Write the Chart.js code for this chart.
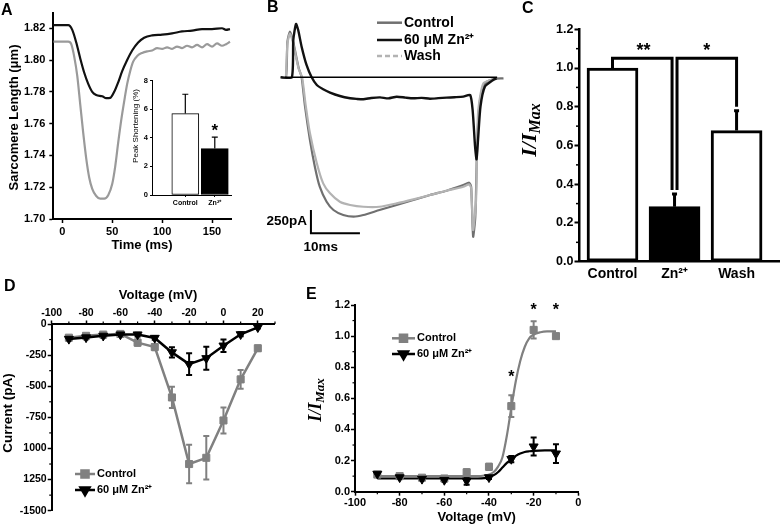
<!DOCTYPE html>
<html><head><meta charset="utf-8">
<script src="https://cdn.jsdelivr.net/npm/chart.js@4.4.1/dist/chart.umd.min.js"></script>
<style>
html,body{margin:0;padding:0;background:#fff;}
#wrap{position:relative;width:780px;height:529px;overflow:hidden;background:#fff;}
canvas{position:absolute;left:0;top:0;}
</style></head><body><div id="wrap">
<canvas id="cA" width="780" height="529"></canvas>
<canvas id="cIn" width="780" height="529"></canvas>
<canvas id="cB" width="780" height="529"></canvas>
<canvas id="cC" width="780" height="529"></canvas>
<canvas id="cD" width="780" height="529"></canvas>
<canvas id="cE" width="780" height="529"></canvas>
</div>
<script>
// ---------------- DATA ----------------
// Panel A: sarcomere length traces
const aTimeBlack = [-9,0,6,10,14,18,22,26,30,34,40,44,48,52,56,60,65,70,76,82,90,100,110,120,130,140,150,160,164,168];
const aLenBlack  = [1.822,1.822,1.822,1.819,1.811,1.801,1.792,1.785,1.780,1.778,1.7772,1.776,1.7762,1.780,1.786,1.793,1.800,1.806,1.811,1.814,1.8155,1.816,1.8168,1.818,1.8185,1.8195,1.8195,1.820,1.819,1.8195];
const aTimeGray  = [-9,6,9,12,15,18,21,24,27,30,34,38,42,46,50,53,56,59,62,65,68,71,75,80,85,90,95,100,105,110,115,120,125,130,135,140,145,150,155,160,164,168];
const aLenGray   = [1.8116,1.8116,1.810,1.802,1.790,1.772,1.754,1.738,1.726,1.719,1.7145,1.7128,1.7128,1.715,1.722,1.733,1.748,1.762,1.774,1.785,1.793,1.799,1.8025,1.8045,1.8055,1.806,1.8075,1.807,1.808,1.807,1.8085,1.8075,1.809,1.808,1.8095,1.808,1.810,1.8085,1.8105,1.809,1.810,1.8115];
const aYTicks = [1.70,1.72,1.74,1.76,1.78,1.80,1.82];
const aXTicks = [0,50,100,150];
// Panel A inset: peak shortening
const insetCats = ['Control','Zn\u00B2\u207A'];
const insetVals = [5.7,3.25];
const insetErr  = [1.35,0.8];
const insetYTicks = [0,2,4,6,8];
// Panel B: current traces (ms, pA)
const bCtrlT = [-0.6,0.6,0.9,1.4,2.0,2.6,3.2,3.8,4.5,5.5,6.5,7.5,8.9,10.3,12.3,14.4,16.4,19.7,23.2,26.6,30,33.4,36.8,38,38.4,38.8,39.25,39.65,40.2,41.2,42.9,45];
const bCtrlI = [0,0,380,489,400,250,100,0,-315,-673,-959,-1174,-1335,-1424,-1478,-1496,-1478,-1424,-1370,-1317,-1263,-1217,-1156,-1131,-1174,-1710,-1496,-673,-244,-64,-18,-11];
const bWashT = [0.6,0.9,1.4,2.0,2.6,3.2,3.9,4.6,5.5,6.9,8.2,9.6,11.6,13.7,16.4,19.7,23.2,26.6,30,33.4,36.8,38,38.4,38.8,39.4,39.8,40.9,43.6];
const bWashI = [0,360,470,380,230,90,0,-290,-600,-922,-1138,-1245,-1335,-1370,-1389,-1389,-1353,-1310,-1263,-1217,-1174,-1149,-1190,-1639,-1317,-387,-64,-14];
const bZnT = [-0.4,1.8,2.1,2.65,3.1,3.8,4.8,5.85,6.9,8.2,9.6,11.6,13.7,15,16.4,18,19.8,21.5,23.2,25,26.6,28.3,30,31.7,33.4,35,36.8,38.2,38.7,39.2,39.5,39.8,40.3,41.2,42.9,43.6];
const bZnI = [0,0,400,572,507,328,132,0,-83,-129,-165,-201,-225,-232,-236,-222,-215,-226,-208,-218,-225,-221,-230,-224,-218,-214,-208,-190,-351,-745,-880,-673,-315,-101,-29,-11];
const bBaseT = [0.4,43.7];
const bBaseI = [0,0];
const bScaleMs = 10, bScalePA = 250, bScaleOrigin = [5.7,-1674];
// Panel C: normalized current bars
const cCats = ['Control','Zn\u00B2\u207A','Wash'];
const cVals = [1.0,0.284,0.677];
const cErr  = [0,0.065,0.103];
const cYTicks = [0,0.2,0.4,0.6,0.8,1.0,1.2];
// Panel D: I-V relation
const dVolt = [-90,-80,-70,-60,-50,-40,-30,-20,-10,0,10,20];
const dCtrl = [-110,-95,-85,-80,-150,-185,-590,-1125,-1075,-775,-445,-195];
const dCtrlErr = [15,15,15,15,25,25,85,155,175,105,75,22];
const dZn = [-120,-108,-95,-85,-85,-112,-228,-322,-275,-174,-83,-27];
const dZnErr = [15,15,15,15,15,15,42,88,92,50,16,10];
const dXTicks = [-100,-80,-60,-40,-20,0,20];
const dYTicks = [0,-250,-500,-750,-1000,-1250,-1500];
const dYTickLabels = ['0','-250','-500','-750','1000','1250','-1500'];
// Panel E: normalized activation
const eVolt = [-90,-80,-70,-60,-50,-40,-30,-20,-10];
const eCtrl = [0.11,0.10,0.09,0.085,0.125,0.16,0.55,1.04,1.0];
const eCtrlErr = [0.01,0.01,0.01,0.01,0.02,0.02,0.07,0.055,0.01];
const eZn = [0.115,0.092,0.082,0.075,0.07,0.092,0.21,0.29,0.245];
const eZnErr = [0.01,0.01,0.01,0.01,0.025,0.01,0.02,0.058,0.06];
const eFitV = [-90,-60,-45,-42,-40,-38,-36,-34,-32,-30,-28,-26,-24,-22,-20,-17,-14,-10];
const eFitCtrl = [0.10,0.10,0.10,0.104,0.11,0.125,0.16,0.22,0.36,0.54,0.71,0.84,0.93,0.985,1.01,1.025,1.03,1.03];
const eFitZnV = [-90,-60,-45,-42,-40,-38,-36,-34,-32,-30,-28,-26,-24,-22,-20,-15,-10];
const eFitZn = [0.085,0.085,0.085,0.087,0.092,0.105,0.125,0.155,0.185,0.21,0.23,0.245,0.255,0.26,0.263,0.265,0.265];
const eXTicks = [-100,-80,-60,-40,-20,0];
const eYTicks = [0,0.2,0.4,0.6,0.8,1.0,1.2];

// ---------------- HELPERS ----------------
const FAM = '"Liberation Sans", Arial, Helvetica, sans-serif';
const SERIF = '"Liberation Serif", "Times New Roman", serif';
Chart.defaults.font.family = FAM;
Chart.defaults.font.weight = 'bold';
Chart.defaults.color = '#000';
Chart.defaults.animation = false;
Chart.defaults.responsive = false;
Chart.defaults.events = [];
Chart.defaults.plugins.legend.display = false;
Chart.defaults.plugins.tooltip.enabled = false;

const W = 780, H = 529;
function fnt(s, w) { return (w || 'bold') + ' ' + s + 'px ' + FAM; }
function pts(xs, ys) { return xs.map((x, i) => ({x: x, y: ys[i]})); }
function pad(l, t, r, b, yw, xh, xTop) {
  return {left: l - yw, right: W - r, top: xTop ? t - xh : t, bottom: xTop ? H - b : H - b - xh};
}
function fitter(size, isX) {
  return s => {
    if (isX) s.height = size; else s.width = size;
    s.paddingLeft = 0; s.paddingRight = 0; s.paddingTop = 0; s.paddingBottom = 0;
  };
}
function axis(o) {
  return {
    type: 'linear', position: o.pos, min: o.min, max: o.max, display: true, offset: false,
    afterFit: fitter(o.fit, o.isX),
    afterBuildTicks: s => { s.ticks = o.ticks.map(v => ({value: v})); },
    ticks: {font: {size: o.fs, weight: o.fw || 'bold'}, color: '#000', padding: o.pad,
      autoSkip: false, maxRotation: 0, minRotation: 0,
      callback: o.cb || (v => String(v))},
    grid: {display: true, offset: false, drawOnChartArea: false, drawTicks: o.tl > 0, tickLength: o.tl || 0,
      tickColor: '#000', tickWidth: o.tw || 1.5},
    border: {display: true, color: '#000', width: o.bw || 2}
  };
}
function txt(ctx, s, x, y, font, align, base, rot) {
  ctx.save();
  ctx.font = font; ctx.fillStyle = '#000';
  ctx.textAlign = align || 'center'; ctx.textBaseline = base || 'middle';
  ctx.translate(x, y);
  if (rot) ctx.rotate(rot);
  ctx.fillText(s, 0, 0);
  ctx.restore();
}
function star(ctx, s, x, yc, size) {
  txt(ctx, s, x, yc + size * 0.55, fnt(size), 'center', 'alphabetic');
}
function iMax(ctx, cx, cy, s1, s2) {
  ctx.save();
  ctx.fillStyle = '#000';
  const f1 = 'italic bold ' + s1 + 'px ' + SERIF, f2 = 'italic bold ' + s2 + 'px ' + SERIF;
  ctx.font = f1; const w1 = ctx.measureText('I/I').width;
  ctx.font = f2; const w2 = ctx.measureText('Max').width;
  ctx.translate(cx, cy); ctx.rotate(-Math.PI / 2);
  ctx.textBaseline = 'middle'; ctx.textAlign = 'left';
  ctx.font = f1; ctx.fillText('I/I', -(w1 + w2) / 2, 0);
  ctx.font = f2; ctx.fillText('Max', -(w1 + w2) / 2 + w1, s1 * 0.28);
  ctx.restore();
}
function minor(c, id, vals, len, lw) {
  const sc = c.scales[id], ctx = c.ctx, a = c.chartArea;
  ctx.save(); ctx.strokeStyle = '#000'; ctx.lineWidth = lw || 1;
  vals.forEach(v => {
    const p = sc.getPixelForValue(v);
    ctx.beginPath();
    if (sc.axis === 'y') { ctx.moveTo(a.left - len, p); ctx.lineTo(a.left, p); }
    else if (sc.position === 'top') { ctx.moveTo(p, a.top - len); ctx.lineTo(p, a.top); }
    else { ctx.moveTo(p, a.bottom); ctx.lineTo(p, a.bottom + len); }
    ctx.stroke();
  });
  ctx.restore();
}
function errs(c, xs, ys, es, color, cap, lw, upOnly) {
  const X = c.scales.x, Y = c.scales.y, ctx = c.ctx;
  ctx.save(); ctx.strokeStyle = color; ctx.lineWidth = lw;
  xs.forEach((x, i) => {
    if (!es[i]) return;
    const px = X.getPixelForValue(x);
    const hi = Y.getPixelForValue(ys[i] + es[i]);
    const lo = Y.getPixelForValue(upOnly ? ys[i] : ys[i] - es[i]);
    ctx.beginPath();
    ctx.moveTo(px, lo); ctx.lineTo(px, hi);
    ctx.moveTo(px - cap, hi); ctx.lineTo(px + cap, hi);
    if (!upOnly) { ctx.moveTo(px - cap, lo); ctx.lineTo(px + cap, lo); }
    ctx.stroke();
  });
  ctx.restore();
}
function legendRow(ctx, x1, x2, y, color, lw, dash, marker, label, font) {
  ctx.save();
  ctx.strokeStyle = color; ctx.lineWidth = lw;
  if (dash) ctx.setLineDash(dash);
  ctx.beginPath(); ctx.moveTo(x1, y); ctx.lineTo(x2, y); ctx.stroke();
  ctx.setLineDash([]);
  if (marker) {
    ctx.fillStyle = color; ctx.strokeStyle = color;
    Chart.helpers.drawPoint(ctx, marker, (x1 + x2) / 2, y);
  }
  ctx.restore();
  txt(ctx, label, x2 + 2, y, font, 'left', 'middle');
}
function range(a, b, s) { const r = []; for (let v = a; v <= b + 1e-9; v += s) r.push(+v.toFixed(6)); return r; }

// ---------------- PANEL A ----------------
new Chart(document.getElementById('cA'), {
  type: 'line',
  data: {datasets: [
    {data: pts(aTimeBlack, aLenBlack), borderColor: '#111', borderWidth: 2.2, pointRadius: 0, cubicInterpolationMode: 'monotone'},
    {data: pts(aTimeGray, aLenGray), borderColor: '#9a9a9a', borderWidth: 2.2, pointRadius: 0, cubicInterpolationMode: 'monotone'}
  ]},
  options: {
    layout: {padding: pad(53.3, 13, 231, 219, 45, 25)},
    scales: {
      x: axis({pos: 'bottom', isX: true, min: -9, max: 169, ticks: aXTicks, fs: 11, tl: 4, pad: 2, fit: 25}),
      y: axis({pos: 'left', min: 1.70, max: 1.8296, ticks: aYTicks, fs: 11, tl: 4, pad: 4, fit: 45, cb: v => v.toFixed(2)})
    }
  },
  plugins: [{id: 'aText', afterDraw(c) {
    const ctx = c.ctx;
    txt(ctx, 'A', 1, 11, fnt(16), 'left');
    txt(ctx, 'Time (ms)', 142, 245, fnt(13));
    txt(ctx, 'Sarcomere Length (\u03BCm)', 14, 117.5, fnt(13), 'center', 'middle', -Math.PI / 2);
  }}]
});

// ---------------- INSET ----------------
new Chart(document.getElementById('cIn'), {
  type: 'bar',
  data: {datasets: [{
    data: insetVals.map((v, i) => ({x: i + 1, y: v})),
    backgroundColor: ['#ffffff', '#000000'], borderColor: '#000', borderWidth: 1,
    borderSkipped: false, barThickness: 27
  }]},
  options: {
    layout: {padding: pad(152, 80.7, 231, 195, 20, 14)},
    scales: {
      x: axis({pos: 'bottom', isX: true, min: -0.13, max: 2.55, ticks: [1, 2], fs: 7, tl: 2, pad: 2, fit: 14, bw: 1, tw: 1,
        cb: v => insetCats[v - 1]}),
      y: axis({pos: 'left', min: 0, max: 8, ticks: insetYTicks, fs: 7.5, tl: 2, pad: 2, fit: 20, bw: 1, tw: 1})
    }
  },
  plugins: [{id: 'inText', afterDatasetsDraw(c) {
    const ctx = c.ctx;
    errs(c, [1, 2], insetVals, insetErr, '#000', 3, 1.2, true);
    const y = c.scales.y.getPixelForValue(4.75), x = c.scales.x.getPixelForValue(2);
    star(ctx, '*', x, y, 17);
    txt(ctx, 'Peak Shortening (%)', 136, 126, fnt(8, 'normal'), 'center', 'middle', -Math.PI / 2);
  }}]
});

// ---------------- PANEL B ----------------
new Chart(document.getElementById('cB'), {
  type: 'line',
  data: {datasets: [
    {data: pts(bBaseT, bBaseI), borderColor: '#000', borderWidth: 1.6, pointRadius: 0},
    {data: pts([bScaleOrigin[0], bScaleOrigin[0], bScaleOrigin[0] + bScaleMs],
               [bScaleOrigin[1] + bScalePA, bScaleOrigin[1], bScaleOrigin[1]]),
     borderColor: '#000', borderWidth: 2, pointRadius: 0},
    {data: pts(bZnT, bZnI), borderColor: '#111', borderWidth: 2.4, pointRadius: 0, tension: 0.2},
    {data: pts(bWashT, bWashI), borderColor: '#b3b3b3', borderWidth: 2.2, pointRadius: 0, tension: 0.2},
    {data: pts(bCtrlT, bCtrlI), borderColor: '#707070', borderWidth: 2.2, pointRadius: 0, tension: 0.2}
  ]},
  options: {
    layout: {padding: {left: 270, right: 260, top: 0, bottom: 269}},
    scales: {
      x: {type: 'linear', display: false, min: -2.653, max: 48.367},
      y: {type: 'linear', display: false, min: -1960.4, max: 829.4}
    }
  },
  plugins: [{id: 'bText', afterDraw(c) {
    const ctx = c.ctx;
    txt(ctx, 'B', 267, 8, fnt(16), 'left');
    legendRow(ctx, 377, 402, 22.7, '#707070', 2.5, null, null, 'Control', fnt(14));
    legendRow(ctx, 377, 402, 40, '#111', 2.5, null, null, '60 \u03BCM Zn\u00B2\u207A', fnt(14));
    legendRow(ctx, 377, 402, 56, '#b3b3b3', 2.5, [5, 3], null, 'Wash', fnt(14));
    txt(ctx, '250pA', 307, 221, fnt(13.5), 'right');
    txt(ctx, '10ms', 320.7, 247, fnt(13.5));
  }}]
});

// ---------------- PANEL C ----------------
const cBrackets = [
  {x1: 0, x2: 0.96, y1: 1.0, y2: 0.37, h: 1.05, label: '**', lx: 0.5},
  {x1: 1.04, x2: 2, y1: 0.37, y2: 0.80, h: 1.05, label: '*', lx: 1.52}
];
new Chart(document.getElementById('cC'), {
  type: 'bar',
  data: {datasets: [{
    data: cVals.map((v, i) => ({x: i, y: v})),
    backgroundColor: ['#ffffff', '#000000', '#ffffff'], borderColor: '#000', borderWidth: 3,
    borderSkipped: false, barThickness: 51
  }]},
  options: {
    layout: {padding: pad(579, 29.3, 780, 261.7, 45, 25)},
    scales: {
      x: axis({pos: 'bottom', isX: true, min: -0.54, max: 2.70, ticks: [0, 1, 2], fs: 14, tl: 0, pad: 4, fit: 25, bw: 2.5,
        cb: v => cCats[v]}),
      y: axis({pos: 'left', min: 0, max: 1.2, ticks: cYTicks, fs: 12.5, tl: 4.5, pad: 1, fit: 45, bw: 2.5, tw: 2,
        cb: v => v.toFixed(1)})
    }
  },
  plugins: [{id: 'cText', afterDraw(c) {
    const ctx = c.ctx, X = c.scales.x, Y = c.scales.y;
    minor(c, 'y', range(0.1, 1.1, 0.2), 3, 1.5);
    errs(c, [0, 1, 2], cVals, cErr, '#000', 2.5, 3, true);
    ctx.save(); ctx.strokeStyle = '#000'; ctx.lineWidth = 3; ctx.lineJoin = 'miter';
    cBrackets.forEach(b => {
      ctx.beginPath();
      ctx.moveTo(X.getPixelForValue(b.x1), Y.getPixelForValue(b.y1));
      ctx.lineTo(X.getPixelForValue(b.x1), Y.getPixelForValue(b.h));
      ctx.lineTo(X.getPixelForValue(b.x2), Y.getPixelForValue(b.h));
      ctx.lineTo(X.getPixelForValue(b.x2), Y.getPixelForValue(b.y2));
      ctx.stroke();
    });
    ctx.restore();
    cBrackets.forEach(b => star(ctx, b.label, X.getPixelForValue(b.lx), Y.getPixelForValue(b.h) - 12, 18));
    txt(ctx, 'C', 522, 9, fnt(16), 'left');
    iMax(ctx, 530, 130, 22, 16);
  }}]
});

// ---------------- PANEL D ----------------
new Chart(document.getElementById('cD'), {
  type: 'line',
  data: {datasets: [
    {data: pts(dVolt, dZn), borderColor: '#000', backgroundColor: '#000', borderWidth: 2.5,
     pointStyle: 'triangle', pointRotation: 180, pointRadius: 5.2, pointBorderWidth: 1},
    {data: pts(dVolt, dCtrl), borderColor: '#808080', backgroundColor: '#808080', borderWidth: 2.5,
     pointStyle: 'rect', pointRadius: 5, pointBorderWidth: 1}
  ]},
  options: {
    layout: {padding: pad(51.7, 324, 275, 510.7, 45, 20, true)},
    scales: {
      x: axis({pos: 'top', isX: true, min: -100, max: 30, ticks: dXTicks, fs: 10.5, tl: 3.5, pad: 1, fit: 20}),
      y: axis({pos: 'left', min: -1500, max: 0, ticks: dYTicks, fs: 10.5, tl: 4, pad: 1, fit: 45,
        cb: (v, i) => dYTickLabels[i]})
    }
  },
  plugins: [{id: 'dText',
    beforeDatasetsDraw(c) {
      errs(c, dVolt, dCtrl, dCtrlErr, '#808080', 3, 2, false);
      errs(c, dVolt, dZn, dZnErr, '#000', 3, 2, false);
    },
    afterDraw(c) {
      const ctx = c.ctx;
      minor(c, 'y', range(-1375, -125, 250), 2.5, 1.2);
      minor(c, 'x', range(-90, 30, 20), 2.5, 1.2);
      txt(ctx, 'D', 4, 287, fnt(16), 'left');
      txt(ctx, 'Voltage (mV)', 158, 295, fnt(13));
      txt(ctx, 'Current (pA)', 8, 413, fnt(13.5), 'center', 'middle', -Math.PI / 2);
      legendRow(ctx, 75, 95, 474, '#808080', 2.5, null, {pointStyle: 'rect', radius: 5, rotation: 0, borderWidth: 1}, 'Control', fnt(11));
      legendRow(ctx, 75, 95, 490, '#000', 2.5, null, {pointStyle: 'triangle', radius: 5.2, rotation: 180, borderWidth: 1}, '60 \u03BCM Zn\u00B2\u207A', fnt(11));
    }}]
});

// ---------------- PANEL E ----------------
const eStars = [{v: -30, y: 0.76}, {v: -20, y: 1.19}, {v: -10, y: 1.19}];
new Chart(document.getElementById('cE'), {
  type: 'scatter',
  data: {datasets: [
    {data: pts(eVolt, eZn), borderColor: '#000', backgroundColor: '#000', showLine: false,
     pointStyle: 'triangle', pointRotation: 180, pointRadius: 5.2, pointBorderWidth: 1},
    {data: pts(eVolt, eCtrl), borderColor: '#808080', backgroundColor: '#808080', showLine: false,
     pointStyle: 'rect', pointRadius: 5, pointBorderWidth: 1},
    {data: pts(eFitZnV, eFitZn), borderColor: '#000', borderWidth: 2.2, showLine: true, pointRadius: 0, cubicInterpolationMode: 'monotone'},
    {data: pts(eFitV, eFitCtrl), borderColor: '#808080', borderWidth: 2.2, showLine: true, pointRadius: 0, cubicInterpolationMode: 'monotone'}
  ]},
  options: {
    layout: {padding: pad(355, 305, 578.3, 491.7, 45, 20)},
    scales: {
      x: axis({pos: 'bottom', isX: true, min: -100, max: 0, ticks: eXTicks, fs: 11, tl: 4, pad: 1, fit: 20}),
      y: axis({pos: 'left', min: 0, max: 1.2, ticks: eYTicks, fs: 11, tl: 4, pad: 1, fit: 45, cb: v => v.toFixed(1)})
    }
  },
  plugins: [{id: 'eText',
    beforeDatasetsDraw(c) {
      errs(c, eVolt, eCtrl, eCtrlErr, '#808080', 3, 2, false);
      errs(c, eVolt, eZn, eZnErr, '#000', 3, 2, false);
    },
    afterDraw(c) {
      const ctx = c.ctx, X = c.scales.x, Y = c.scales.y;
      minor(c, 'y', range(0.1, 1.1, 0.2), 2.5, 1.2);
      minor(c, 'x', range(-90, -10, 20), 2.5, 1.2);
      eStars.forEach(s => star(ctx, '*', X.getPixelForValue(s.v), Y.getPixelForValue(s.y), 16));
      txt(ctx, 'E', 306, 295, fnt(16), 'left');
      txt(ctx, 'Voltage (mV)', 476.7, 517, fnt(13));
      iMax(ctx, 316, 400, 18, 13);
      legendRow(ctx, 392, 415, 338.3, '#808080', 2.5, null, {pointStyle: 'rect', radius: 5, rotation: 0, borderWidth: 1}, 'Control', fnt(11));
      legendRow(ctx, 392, 415, 354, '#000', 2.5, null, {pointStyle: 'triangle', radius: 5.2, rotation: 180, borderWidth: 1}, '60 \u03BCM Zn\u00B2\u207A', fnt(11));
    }}]
});
</script>
</body></html>
